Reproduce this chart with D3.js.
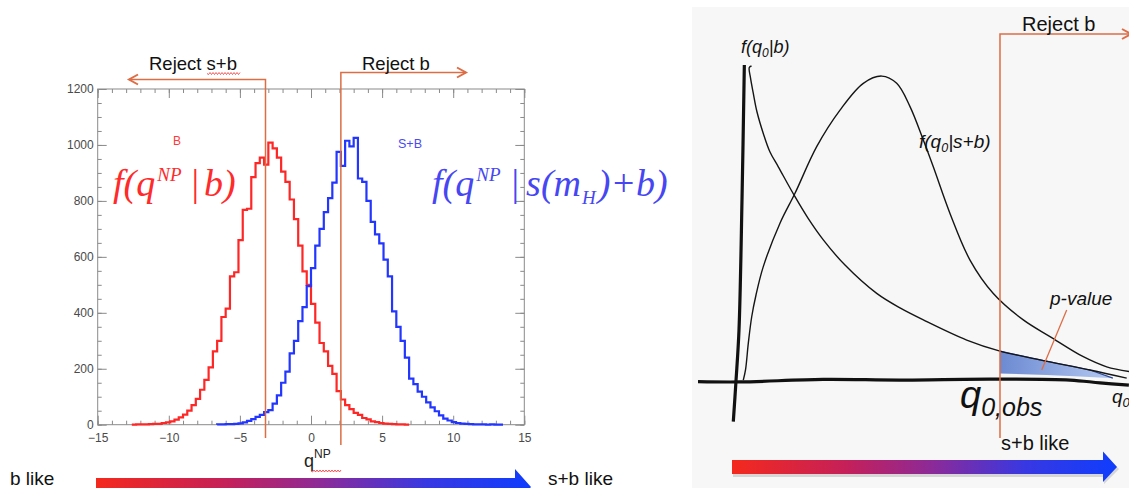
<!DOCTYPE html>
<html>
<head>
<meta charset="utf-8">
<script src="https://cdn.jsdelivr.net/npm/d3@7"></script>
<style>
  body { margin: 0; background: #fff; }
  svg { display: block; font-family: "Liberation Sans", Arial, sans-serif; }
</style>
</head>
<body>
<svg id="chart" width="1129" height="488"></svg>
<script>
// ---- left panel: toy MC histograms of q^NP (bin width 0.3) ----
const binWidth = 0.3;
const bFirstEdge = -12.6;   // low edge of first "B" bin
const bCounts = [0, 1, 1, 1, 2, 3, 3, 6, 8, 12, 18, 26, 36, 50, 70, 92, 125, 160, 205, 262,
  300, 385, 415, 530, 545, 660, 768, 772, 885, 935, 955, 930, 1008, 988, 955, 905, 868, 805, 735, 640,
  548, 500, 432, 365, 292, 262, 210, 182, 120, 90, 70, 56, 42, 35, 24, 19, 12, 9, 6, 4,
  3, 2, 1, 1, 0];
const sbFirstEdge = -6.6;   // low edge of first "S+B" bin
const sbCounts = [1, 1, 2, 2, 3, 5, 8, 14, 20, 28, 35, 45, 52, 75, 105, 150, 190, 255, 300, 370,
  420, 495, 560, 640, 700, 760, 810, 865, 975, 925, 1015, 995, 1025, 880, 868, 800, 725, 680, 648, 590,
  530, 405, 350, 300, 240, 165, 145, 118, 100, 80, 62, 48, 33, 22, 15, 9, 6, 4, 3, 2,
  1, 1, 1, 0, 1, 0, 0];
const xTickVals = [-15, -10, -5, 0, 5, 10, 15];
const yTickVals = [0, 200, 400, 600, 800, 1000, 1200];
const cutSB = -3.2;   // "Reject s+b" boundary
const cutB = 2.1;     // "Reject b" boundary

// ---- right panel: hand sketch, [q0, density] ----
const fB = [[0.244, 1.0], [0.187, 0.995], [0.218, 0.962], [0.29, 0.913], [0.385, 0.854], [0.546, 0.786],
  [0.718, 0.727], [0.931, 0.68], [1.359, 0.585], [1.692, 0.517], [2.085, 0.448], [2.641, 0.368],
  [3.454, 0.278], [4.051, 0.232], [4.649, 0.194], [5.762, 0.13], [6.615, 0.095], [7.641, 0.067],
  [8.923, 0.035], [9.864, 0.009]];
const fSB = [[0.033, 0.003], [0.09, 0.035], [0.162, 0.12], [0.249, 0.204], [0.359, 0.273], [0.546, 0.363],
  [0.974, 0.501], [1.359, 0.596], [1.915, 0.744], [2.513, 0.86], [3.11, 0.945], [3.582, 0.968],
  [3.967, 0.945], [4.308, 0.871], [4.649, 0.765], [4.905, 0.68], [5.333, 0.532], [5.846, 0.384],
  [6.444, 0.278], [7.213, 0.194], [7.897, 0.141], [8.751, 0.077], [9.351, 0.045], [9.923, 0.03]];
const pvalLower = [[9.51, 0.009], [8.67, 0.014], [7.81, 0.019], [6.615, 0.024]];
const yAxisSketch = [[0.06, 1.003], [0.0, 0.575], [-0.077, 0.162], [-0.154, 0.0], [-0.223, -0.129]];
const xAxisSketch = [[-1.128, -0.002], [-0.051, -0.003], [2.077, 0.005], [4.051, 0.003], [6.359, 0.006],
  [8.41, 0.003], [9.18, -0.006], [9.92, -0.013]];
const q0obs = 6.615;

const orange = '#dd6d45';
const svg = d3.select('#chart');

const defs = svg.append('defs');
const grad = defs.append('linearGradient').attr('id', 'rb').attr('x1', 0).attr('x2', 1).attr('y1', 0).attr('y2', 0);
[['0%', '#f4291d'], ['30%', '#c4205a'], ['52%', '#8c2a98'], ['76%', '#3838e2'], ['100%', '#0f3dfd']]
  .forEach(s => grad.append('stop').attr('offset', s[0]).attr('stop-color', s[1]));
const pgrad = defs.append('linearGradient').attr('id', 'pv').attr('x1', 0).attr('x2', 1).attr('y1', 0).attr('y2', 0);
pgrad.append('stop').attr('offset', '0%').attr('stop-color', '#6c8ad2');
pgrad.append('stop').attr('offset', '100%').attr('stop-color', '#b4c8f0');

// wavy spell-check underline
function squiggle(x0, x1, y) {
  let d = `M${x0},${y}`;
  for (let x = x0, i = 0; x < x1; x += 1.5, i++) d += `L${x + 1.5},${y + (i % 2 ? -1 : 1)}`;
  svg.append('path').attr('d', d).attr('fill', 'none').attr('stroke', '#f03030').attr('stroke-width', 0.8);
}

// ===================== left panel =====================
const xL = d3.scaleLinear().domain([-15, 15]).range([97.7, 524.3]);
const yL = d3.scaleLinear().domain([0, 1200]).range([424.7, 89]);
const left = svg.append('g');

function styleAxis(g) {
  g.select('.domain').remove();
  g.selectAll('line').attr('stroke', '#8a8a8a');
  g.selectAll('text').attr('fill', '#4a4a4a').style('font-size', '12px')
    .style('font-family', '"Liberation Sans", Arial, sans-serif');
}
const minorX = d3.range(-15, 16, 1);
const minorY = d3.range(0, 1201, 50);
const fmt = d => d < 0 ? '\u2212' + Math.abs(d) : String(d);

left.append('g').attr('transform', `translate(0,${yL(0)})`)
  .call(d3.axisBottom(xL).tickValues(xTickVals).tickSize(-9).tickPadding(9).tickFormat(fmt)).call(styleAxis);
left.append('g').attr('transform', `translate(0,${yL(0)})`)
  .call(d3.axisBottom(xL).tickValues(minorX).tickSize(-4).tickFormat('')).call(styleAxis);
left.append('g').attr('transform', `translate(0,${yL(1200)})`)
  .call(d3.axisTop(xL).tickValues(xTickVals).tickSize(-9).tickFormat('')).call(styleAxis);
left.append('g').attr('transform', `translate(0,${yL(1200)})`)
  .call(d3.axisTop(xL).tickValues(minorX).tickSize(-4).tickFormat('')).call(styleAxis);
left.append('g').attr('transform', `translate(${xL(-15)},0)`)
  .call(d3.axisLeft(yL).tickValues(yTickVals).tickSize(-9).tickPadding(4).tickFormat(d3.format('d'))).call(styleAxis);
left.append('g').attr('transform', `translate(${xL(-15)},0)`)
  .call(d3.axisLeft(yL).tickValues(minorY).tickSize(-4).tickFormat('')).call(styleAxis);
left.append('g').attr('transform', `translate(${xL(15)},0)`)
  .call(d3.axisRight(yL).tickValues(yTickVals).tickSize(-9).tickFormat('')).call(styleAxis);
left.append('g').attr('transform', `translate(${xL(15)},0)`)
  .call(d3.axisRight(yL).tickValues(minorY).tickSize(-4).tickFormat('')).call(styleAxis);
left.append('rect').attr('x', xL(-15)).attr('y', yL(1200))
  .attr('width', xL(15) - xL(-15)).attr('height', yL(0) - yL(1200))
  .attr('fill', 'none').attr('stroke', '#8a8a8a').attr('stroke-width', 1);

// histogram outlines
function stepPoints(first, counts) {
  const pts = [[first, 0]];
  counts.forEach((c, i) => {
    pts.push([first + i * binWidth, c]);
    pts.push([first + (i + 1) * binWidth, c]);
  });
  pts.push([first + counts.length * binWidth, 0]);
  return pts;
}
const histLine = d3.line().x(d => xL(d[0])).y(d => yL(d[1]));
left.append('path').attr('d', histLine(stepPoints(bFirstEdge, bCounts)))
  .attr('fill', 'none').attr('stroke', '#ff2626').attr('stroke-width', 2.2);
left.append('path').attr('d', histLine(stepPoints(sbFirstEdge, sbCounts)))
  .attr('fill', 'none').attr('stroke', '#2236ff').attr('stroke-width', 2.2);

left.append('text').attr('x', 173).attr('y', 145).attr('fill', '#ff3a3a').style('font-size', '12px').text('B');
left.append('text').attr('x', 398).attr('y', 148).attr('fill', '#4a4af4').style('font-size', '12.5px').text('S+B');

// big formulas
const serif = '"Liberation Serif", "Times New Roman", serif';
const fr = left.append('text').attr('x', 113).attr('y', 196).attr('fill', '#ff2a2a')
  .style('font-family', serif).style('font-style', 'italic').style('font-size', '38px');
fr.append('tspan').text('f(q');
fr.append('tspan').attr('dy', -15).attr('dx', 2).style('font-size', '19px').text('NP');
fr.append('tspan').attr('dy', 15).attr('dx', 10).style('font-style', 'normal').text('|');
fr.append('tspan').attr('dx', 5).text('b)');

const fs = left.append('text').attr('x', 432).attr('y', 196).attr('fill', '#4646f2')
  .style('font-family', serif).style('font-style', 'italic').style('font-size', '38px');
fs.append('tspan').text('f(q');
fs.append('tspan').attr('dy', -15).attr('dx', 2).style('font-size', '19px').text('NP');
fs.append('tspan').attr('dy', 15).attr('dx', 11).style('font-style', 'normal').text('|');
fs.append('tspan').attr('dx', 7).text('s(m');
fs.append('tspan').attr('dy', 8).attr('dx', 1).style('font-size', '19px').text('H');
fs.append('tspan').attr('dy', -8).attr('dx', 2).text(')+b)');

// x label q^NP
const ql = svg.append('text').attr('x', 304).attr('y', 467).attr('fill', '#222').style('font-size', '18px');
ql.append('tspan').text('q');
ql.append('tspan').attr('dy', -9).style('font-size', '12px').text('NP');
squiggle(311, 341, 471);

// reject lines
function chevron(x, y, dir) {
  svg.append('path').attr('d', `M${x - dir * 9},${y - 5}L${x},${y}L${x - dir * 9},${y + 5}`)
    .attr('fill', 'none').attr('stroke', orange).attr('stroke-width', 2);
}
svg.append('path').attr('d', `M${xL(cutSB)},438V79.5H129`).attr('fill', 'none').attr('stroke', orange).attr('stroke-width', 1.5);
chevron(129, 79.5, -1);
svg.append('path').attr('d', `M${xL(cutB)},445V72.5H466`).attr('fill', 'none').attr('stroke', orange).attr('stroke-width', 1.5);
chevron(466, 72.5, 1);
svg.append('text').attr('x', 149).attr('y', 70).attr('fill', '#111').style('font-size', '18.5px').text('Reject s+b');
squiggle(207, 240, 73.5);
svg.append('text').attr('x', 362).attr('y', 70).attr('fill', '#111').style('font-size', '18.5px').text('Reject b');

// bottom gradient arrow
svg.append('path').attr('d', 'M96,478H515V469L531,487L515,505V496H96Z').attr('fill', 'url(#rb)');
svg.append('text').attr('x', 10).attr('y', 485).attr('fill', '#111').style('font-size', '19px').text('b like');
svg.append('text').attr('x', 548).attr('y', 485).attr('fill', '#111').style('font-size', '19px').text('s+b like');

// ===================== right panel =====================
const xR = d3.scaleLinear().domain([0, 10]).range([742, 1132]);
const yR = d3.scaleLinear().domain([0, 1]).range([381, 66]);
const right = svg.append('g');
right.append('rect').attr('x', 692).attr('y', 7).attr('width', 437).attr('height', 481).attr('fill', '#f7f7f7');

const sketch = d3.line().x(d => xR(d[0])).y(d => yR(d[1])).curve(d3.curveCatmullRom.alpha(0.5));

// p-value area
const pUpper = fB.filter(d => d[0] >= q0obs && d[0] < 9.2);
right.append('path').attr('d', d3.line().x(d => xR(d[0])).y(d => yR(d[1])).curve(d3.curveLinear)(pUpper.concat(pvalLower)) + 'Z')
  .attr('fill', 'url(#pv)');
right.append('path').attr('d', d3.line().x(d => xR(d[0])).y(d => yR(d[1]))(pUpper.concat([pvalLower[0]])))
  .attr('fill', 'none').attr('stroke', '#2a4696').attr('stroke-width', 1.2);

right.append('path').attr('d', sketch(xAxisSketch)).attr('fill', 'none').attr('stroke', '#111').attr('stroke-width', 3.2);
right.append('path').attr('d', sketch(yAxisSketch)).attr('fill', 'none').attr('stroke', '#111').attr('stroke-width', 3.2);
right.append('path').attr('d', sketch(fB)).attr('fill', 'none').attr('stroke', '#151515').attr('stroke-width', 1.4);
right.append('path').attr('d', sketch(fSB)).attr('fill', 'none').attr('stroke', '#151515').attr('stroke-width', 1.4);

// reject b
svg.append('path').attr('d', `M${xR(q0obs)},438V34H1131`).attr('fill', 'none').attr('stroke', orange).attr('stroke-width', 1.5);
chevron(1131, 34, 1);
svg.append('text').attr('x', 1022).attr('y', 31).attr('fill', '#111').style('font-size', '20px').text('Reject b');

// p-value leader
svg.append('line').attr('x1', 1066.7).attr('y1', 310).attr('x2', 1041.7).attr('y2', 370)
  .attr('stroke', orange).attr('stroke-width', 1.3);
svg.append('text').attr('x', 1050).attr('y', 305).attr('fill', '#111').style('font-size', '19px')
  .style('font-style', 'italic').text('p-value');

function qLabel(x, y, size, sub, subSize) {
  const t = svg.append('text').attr('x', x).attr('y', y).attr('fill', '#111')
    .style('font-size', size + 'px').style('font-style', 'italic');
  t.append('tspan').text('q');
  t.append('tspan').attr('dy', size * 0.2).style('font-size', subSize + 'px').text(sub);
  return t;
}
const fl = svg.append('text').attr('x', 741).attr('y', 53).attr('fill', '#111').style('font-size', '18px').style('font-style', 'italic');
fl.append('tspan').text('f(q');
fl.append('tspan').attr('dy', 4).style('font-size', '12px').text('0');
fl.append('tspan').attr('dy', -4).text('|b)');
const fl2 = svg.append('text').attr('x', 919).attr('y', 148).attr('fill', '#111').style('font-size', '19px').style('font-style', 'italic');
fl2.append('tspan').text('f(q');
fl2.append('tspan').attr('dy', 4).style('font-size', '12.5px').text('0');
fl2.append('tspan').attr('dy', -4).text('|s+b)');

qLabel(960, 408, 38, '0,obs', 25);
qLabel(1112, 403, 19, '0', 13);

svg.append('text').attr('x', 1001).attr('y', 450).attr('fill', '#111').style('font-size', '20px').text('s+b like');

// right gradient arrow
svg.append('path').attr('d', 'M733,463H1104V454L1119,469L1104,484V477H733Z').attr('fill', '#999').attr('opacity', 0.35);
svg.append('path').attr('d', 'M732,460H1103V451.5L1117,467L1103,482V474H732Z').attr('fill', 'url(#rb)');
</script>
</body>
</html>
